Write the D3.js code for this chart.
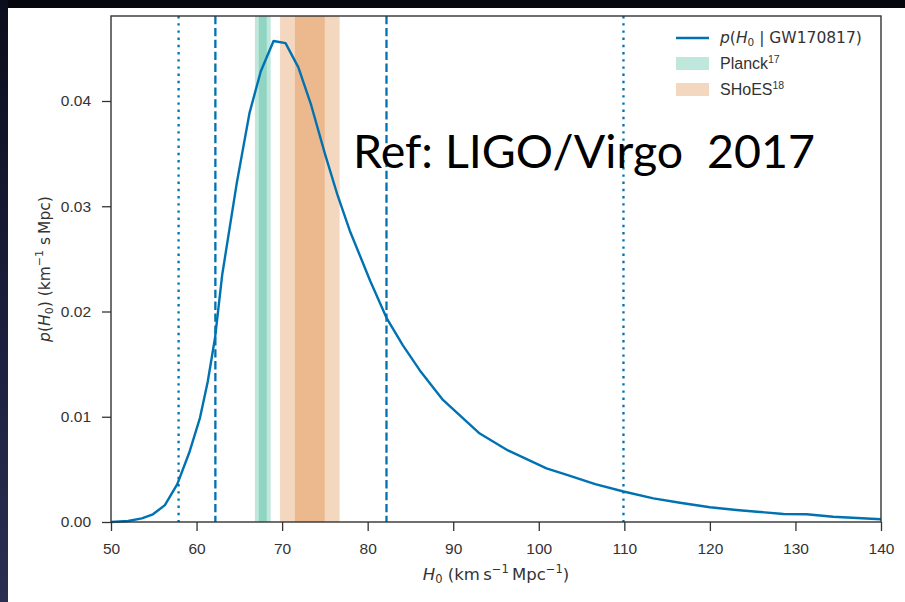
<!DOCTYPE html>
<html>
<head>
<meta charset="utf-8">
<script src="https://cdn.jsdelivr.net/npm/d3@7"></script>
<style>
  html, body { margin: 0; padding: 0; background: #06060e; }
  svg { display: block; }
</style>
</head>
<body>
<svg id="chart" width="905" height="602"></svg>
<script>
// Posterior on the Hubble constant from GW170817
const h0Values = [50, 52, 53.6, 54.9, 56.3, 57.75, 59.15, 60.4, 61.3, 62.16, 63.0, 64.7, 66.2, 67.5,
  69.0, 70.4, 71.9, 73.4, 75.0, 76.5, 77.9, 80.3, 82.2, 84.1, 86.1, 88.8, 93.1, 96.4, 100.9,
  103.2, 106.6, 109.9, 113.4, 116.5, 120.0, 123.1, 125.5, 128.6, 131.3, 134.4, 140];
const pValues = [0.0000, 0.0001, 0.00035, 0.00073, 0.0016, 0.0036, 0.0066, 0.0099, 0.0133, 0.0175,
  0.0235, 0.0322, 0.0389, 0.0428, 0.0457, 0.0455, 0.0432, 0.0396, 0.0350, 0.0310, 0.0277, 0.0229,
  0.0194, 0.0168, 0.0144, 0.0116, 0.0084, 0.0068, 0.0051, 0.0045, 0.0036, 0.0029, 0.00225,
  0.00183, 0.0014, 0.00114, 0.00098, 0.00076, 0.00073, 0.0005, 0.00026];

// Credible-interval markers: 68.3% (dashed) and 95.4% (dotted)
const intervals68 = [62.2, 82.2];
const intervals95 = [57.9, 109.9];

// External measurements: [centre, sigma]
const planck = [67.74, 0.46];
const shoes = [73.24, 1.74];

const xTicks = [50, 60, 70, 80, 90, 100, 110, 120, 130, 140];
const yTicks = [0.00, 0.01, 0.02, 0.03, 0.04];

const blue = "#0072b2", green = "#009e73", orange = "#d55e00";

const svg = d3.select("#chart");
const W = 905, H = 602;

// slide backdrop
const defs = svg.append("defs");
const grad = defs.append("linearGradient").attr("id", "edge").attr("x1", 0).attr("y1", 0).attr("x2", 0).attr("y2", 1);
grad.append("stop").attr("offset", "0%").attr("stop-color", "#0c0d1c");
grad.append("stop").attr("offset", "60%").attr("stop-color", "#1d2140");
grad.append("stop").attr("offset", "100%").attr("stop-color", "#2a2f52");
svg.append("rect").attr("width", W).attr("height", H).attr("fill", "#06060e");
svg.append("rect").attr("x", 0).attr("y", 0).attr("width", 8).attr("height", H).attr("fill", "url(#edge)");
svg.append("rect").attr("x", 8).attr("y", 8).attr("width", W - 8).attr("height", H - 8).attr("fill", "#ffffff");

const m = { left: 111, right: 881, top: 16, bottom: 522 };
const x = d3.scaleLinear().domain([50, 140]).range([m.left, m.right]);
const y = d3.scaleLinear().domain([0, 0.04]).range([m.bottom, 101]);

const g = svg.append("g");

// measurement bands (2σ then 1σ, overlapping translucent fills)
function band(meas, color) {
  [2, 1].forEach(k => {
    g.append("rect")
      .attr("x", x(meas[0] - k * meas[1]))
      .attr("width", x(meas[0] + k * meas[1]) - x(meas[0] - k * meas[1]))
      .attr("y", m.top).attr("height", m.bottom - m.top)
      .attr("fill", color).attr("fill-opacity", 0.25);
  });
}
band(planck, green);
band(shoes, orange);

// interval lines
intervals68.forEach(v => {
  g.append("line").attr("x1", x(v)).attr("x2", x(v)).attr("y1", m.top).attr("y2", m.bottom)
    .attr("stroke", blue).attr("stroke-width", 2.3).attr("stroke-dasharray", "8.3,3.6");
});
intervals95.forEach(v => {
  g.append("line").attr("x1", x(v)).attr("x2", x(v)).attr("y1", m.top).attr("y2", m.bottom)
    .attr("stroke", blue).attr("stroke-width", 2.3).attr("stroke-dasharray", "2.4,4.8");
});

// posterior curve
const line = d3.line().x(d => x(d[0])).y(d => y(d[1]));
g.append("path")
  .datum(h0Values.map((h, i) => [h, pValues[i]]))
  .attr("d", line)
  .attr("fill", "none").attr("stroke", blue).attr("stroke-width", 2.4).attr("stroke-linejoin", "round");

// axes
const tickFont = "'Liberation Sans', Arial, sans-serif";
const mathFont = "'DejaVu Sans', sans-serif";
const xAxis = d3.axisBottom(x).tickValues(xTicks).tickSize(9).tickPadding(12).tickFormat(d3.format("d"));
const yAxis = d3.axisLeft(y).tickValues(yTicks).tickSize(9).tickPadding(11).tickFormat(d3.format(".2f"));
const gx = svg.append("g").attr("transform", `translate(0,${m.bottom})`).call(xAxis);
const gy = svg.append("g").attr("transform", `translate(${m.left},0)`).call(yAxis);
[gx, gy].forEach(a => {
  a.select(".domain").remove();
  a.selectAll("line").attr("stroke", "#333").attr("stroke-width", 1.3);
  a.selectAll("text").attr("fill", "#333").style("font-family", tickFont).style("font-size", "15.5px");
});

// frame
svg.append("rect").attr("x", m.left).attr("y", m.top)
  .attr("width", m.right - m.left).attr("height", m.bottom - m.top)
  .attr("fill", "none").attr("stroke", "#333").attr("stroke-width", 1.4);

// axis labels
const xl = svg.append("text").attr("x", (m.left + m.right) / 2).attr("y", 580)
  .attr("text-anchor", "middle").attr("fill", "#333")
  .style("font-family", mathFont).style("font-size", "16.5px");
xl.append("tspan").attr("font-style", "italic").text("H");
xl.append("tspan").attr("font-size", "11.5px").attr("dy", 3).text("0");
xl.append("tspan").attr("dy", -3).text(" (km\u2009s");
xl.append("tspan").attr("font-size", "11.5px").attr("dy", -7).text("\u22121");
xl.append("tspan").attr("dy", 7).text("\u2009Mpc");
xl.append("tspan").attr("font-size", "11.5px").attr("dy", -7).text("\u22121");
xl.append("tspan").attr("dy", 7).text(")");

const yl = svg.append("text").attr("transform", `translate(50,${(m.top + m.bottom) / 2}) rotate(-90)`)
  .attr("text-anchor", "middle").attr("fill", "#333")
  .style("font-family", mathFont).style("font-size", "15.5px");
yl.append("tspan").attr("font-style", "italic").text("p");
yl.append("tspan").text("(");
yl.append("tspan").attr("font-style", "italic").text("H");
yl.append("tspan").attr("font-size", "11px").attr("dy", 3).text("0");
yl.append("tspan").attr("dy", -3).text(") (km");
yl.append("tspan").attr("font-size", "11px").attr("dy", -7).text("\u22121");
yl.append("tspan").attr("dy", 7).text(" s\u2009Mpc)");

// legend
const lg = svg.append("g").style("font-family", tickFont).style("font-size", "15.5px").attr("fill", "#333");
lg.append("line").attr("x1", 676).attr("x2", 709).attr("y1", 38).attr("y2", 38)
  .attr("stroke", blue).attr("stroke-width", 2.4);
const t1 = lg.append("text").attr("x", 720).attr("y", 43).style("font-family", mathFont);
t1.append("tspan").attr("font-style", "italic").text("p");
t1.append("tspan").text("(");
t1.append("tspan").attr("font-style", "italic").text("H");
t1.append("tspan").attr("font-size", "10.5px").attr("dy", 3).text("0");
t1.append("tspan").attr("dy", -3).text(" | GW170817)");

lg.append("rect").attr("x", 676).attr("y", 57).attr("width", 33).attr("height", 13)
  .attr("fill", green).attr("fill-opacity", 0.25);
const t2 = lg.append("text").attr("x", 720).attr("y", 69).style("font-size", "16px");
t2.append("tspan").text("Planck");
t2.append("tspan").attr("font-size", "10.5px").attr("dy", -6).text("17");

lg.append("rect").attr("x", 676).attr("y", 83).attr("width", 33).attr("height", 13)
  .attr("fill", orange).attr("fill-opacity", 0.25);
const t3 = lg.append("text").attr("x", 720).attr("y", 95).style("font-size", "16px");
t3.append("tspan").text("SHoES");
t3.append("tspan").attr("font-size", "10.5px").attr("dy", -6).text("18");

// annotation
svg.append("text").attr("x", 353).attr("y", 168)
  .attr("textLength", 462).attr("lengthAdjust", "spacingAndGlyphs")
  .attr("fill", "#000")
  .style("font-family", "Lato, 'Open Sans', sans-serif").style("font-size", "46px")
  .text("Ref: LIGO/Virgo\u00a0\u00a02017");
</script>
</body>
</html>
